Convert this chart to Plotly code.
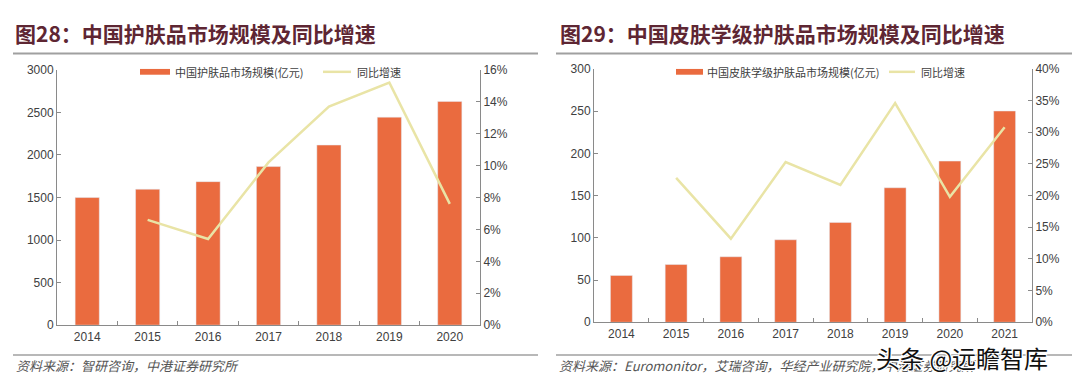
import plotly.graph_objects as go

# ---- data: left chart ----
years_a = ["2014", "2015", "2016", "2017", "2018", "2019", "2020"]
market_a = [1500, 1598, 1687, 1864, 2117, 2445, 2630]
growth_a = [None, 6.6, 5.4, 10.2, 13.7, 15.2, 7.6]

# ---- data: right chart ----
years_b = ["2014", "2015", "2016", "2017", "2018", "2019", "2020", "2021"]
market_b = [55.5, 68.4, 77.6, 97.7, 118.3, 159.3, 190.9, 250.2]
growth_b = [None, 22.8, 13.2, 25.3, 21.7, 34.6, 19.8, 30.8]

title_a = "图28：中国护肤品市场规模及同比增速"
title_b = "图29：中国皮肤学级护肤品市场规模及同比增速"
bar_name_a = "中国护肤品市场规模(亿元)"
bar_name_b = "中国皮肤学级护肤品市场规模(亿元)"
line_name = "同比增速"
source_a = "资料来源：智研咨询，中港证券研究所"
source_b = "资料来源：Euromonitor，艾瑞咨询，华经产业研究院，中港证券研究所"
watermark = "头条 @远瞻智库"

BAR = "#EA6B3F"
LINE = "#E9E4A6"
AXIS = "#8a8a8a"
TICKF = dict(family="Liberation Sans, Arial, sans-serif", size=12, color="#404040")
CJK = "Noto Sans CJK SC"

W, H = 1080, 381

def px(x):
    return x / W

def py(y):
    return 1 - y / H

fig = go.Figure()
fig.add_trace(go.Bar(x=years_a, y=market_a, marker_color=BAR, width=0.4,
                     xaxis="x", yaxis="y", showlegend=False, name=bar_name_a))
fig.add_trace(go.Scatter(x=years_a, y=growth_a, mode="lines", line=dict(color=LINE, width=2.5),
                         xaxis="x", yaxis="y2", showlegend=False, name=line_name))
fig.add_trace(go.Bar(x=years_b, y=market_b, marker_color=BAR, width=0.4,
                     xaxis="x2", yaxis="y3", showlegend=False, name=bar_name_b))
fig.add_trace(go.Scatter(x=years_b, y=growth_b, mode="lines", line=dict(color=LINE, width=2.5),
                         xaxis="x2", yaxis="y4", showlegend=False, name=line_name))

xa_common = dict(type="category", showline=True, linecolor=AXIS, linewidth=1,
                 ticks="inside", tickson="boundaries", ticklen=4, tickcolor=AXIS,
                 tickfont=TICKF, showgrid=False, zeroline=False)
ya_common = dict(showline=True, linecolor=AXIS, linewidth=1, ticks="inside", ticklen=4,
                 tickcolor=AXIS, tickfont=TICKF, showgrid=False, zeroline=False)

fig.update_layout(
    width=W, height=H, margin=dict(l=0, r=0, t=0, b=0),
    paper_bgcolor="white", plot_bgcolor="white",
    bargap=0.6,
    xaxis=dict(domain=[px(49), px(472)], anchor="y", **xa_common),
    yaxis=dict(domain=[py(322), py(57)], anchor="x", range=[0, 3000], dtick=500, **ya_common),
    yaxis2=dict(overlaying="y", side="right", anchor="x", range=[0, 16], dtick=2,
                ticksuffix="%", **ya_common),
    xaxis2=dict(domain=[px(586), px(1024)], anchor="y3", **xa_common),
    yaxis3=dict(domain=[py(319), py(56)], anchor="x2", range=[0, 300], dtick=50, **ya_common),
    yaxis4=dict(overlaying="y3", side="right", anchor="x2", range=[0, 40], dtick=5,
                ticksuffix="%", **ya_common),
)

shapes = []
ann = []

def hline(x0, x1, y, color="#a0a0a0", w=2):
    shapes.append(dict(type="line", xref="paper", yref="paper", x0=px(x0), x1=px(x1),
                       y0=py(y), y1=py(y), line=dict(color=color, width=w)))

# title separators and bottom separators
hline(5, 530, 40)
hline(548, 1075, 40)
hline(5, 530, 353, w=1.5)
hline(548, 1075, 353, w=1.5)

TITLE_COLOR = "#5E2633"
ann.append(dict(text="<b>" + title_a + "</b>", x=px(5), y=py(19), xref="paper", yref="paper",
                xanchor="left", yanchor="middle", showarrow=False,
                font=dict(family=CJK, size=21, color=TITLE_COLOR)))
ann.append(dict(text="<b>" + title_b + "</b>", x=px(550), y=py(19), xref="paper", yref="paper",
                xanchor="left", yanchor="middle", showarrow=False,
                font=dict(family=CJK, size=21, color=TITLE_COLOR)))

# legends (drawn manually to mimic the wide swatches)
def legend(xb0, xb1, xt, name_bar, xl0, xl1, xlt, y):
    shapes.append(dict(type="rect", xref="paper", yref="paper", x0=px(xb0), x1=px(xb1),
                       y0=py(y + 3), y1=py(y - 3), fillcolor=BAR, line=dict(width=0)))
    ann.append(dict(text=name_bar, x=px(xt), y=py(y), xref="paper", yref="paper",
                    xanchor="left", yanchor="middle", showarrow=False,
                    font=dict(family=CJK, size=11, color="#404040")))
    shapes.append(dict(type="line", xref="paper", yref="paper", x0=px(xl0), x1=px(xl1),
                       y0=py(y), y1=py(y), line=dict(color=LINE, width=2.5)))
    ann.append(dict(text=line_name, x=px(xlt), y=py(y), xref="paper", yref="paper",
                    xanchor="left", yanchor="middle", showarrow=False,
                    font=dict(family=CJK, size=11, color="#404040")))

legend(132, 162, 165, bar_name_a, 315, 343, 347, 59)
legend(668, 695, 697, bar_name_b, 881, 907, 911, 59)

SRC_FONT = dict(family=CJK, size=13, color="#555555")
ann.append(dict(text="<i>" + source_a + "</i>", x=px(6), y=py(364), xref="paper", yref="paper",
                xanchor="left", yanchor="middle", showarrow=False, font=SRC_FONT))
ann.append(dict(text="<i>" + source_b + "</i>", x=px(549), y=py(364), xref="paper", yref="paper",
                xanchor="left", yanchor="middle", showarrow=False, font=SRC_FONT))
ann.append(dict(text=watermark, x=px(866), y=py(356), xref="paper", yref="paper",
                xanchor="left", yanchor="middle", showarrow=False,
                font=dict(family=CJK, size=24, color="#111111",
                          shadow="1px 1px 0 #fff, -1px -1px 0 #fff, 1px -1px 0 #fff, -1px 1px 0 #fff")))

fig.update_layout(shapes=shapes, annotations=ann)
fig.write_html("out.html")
